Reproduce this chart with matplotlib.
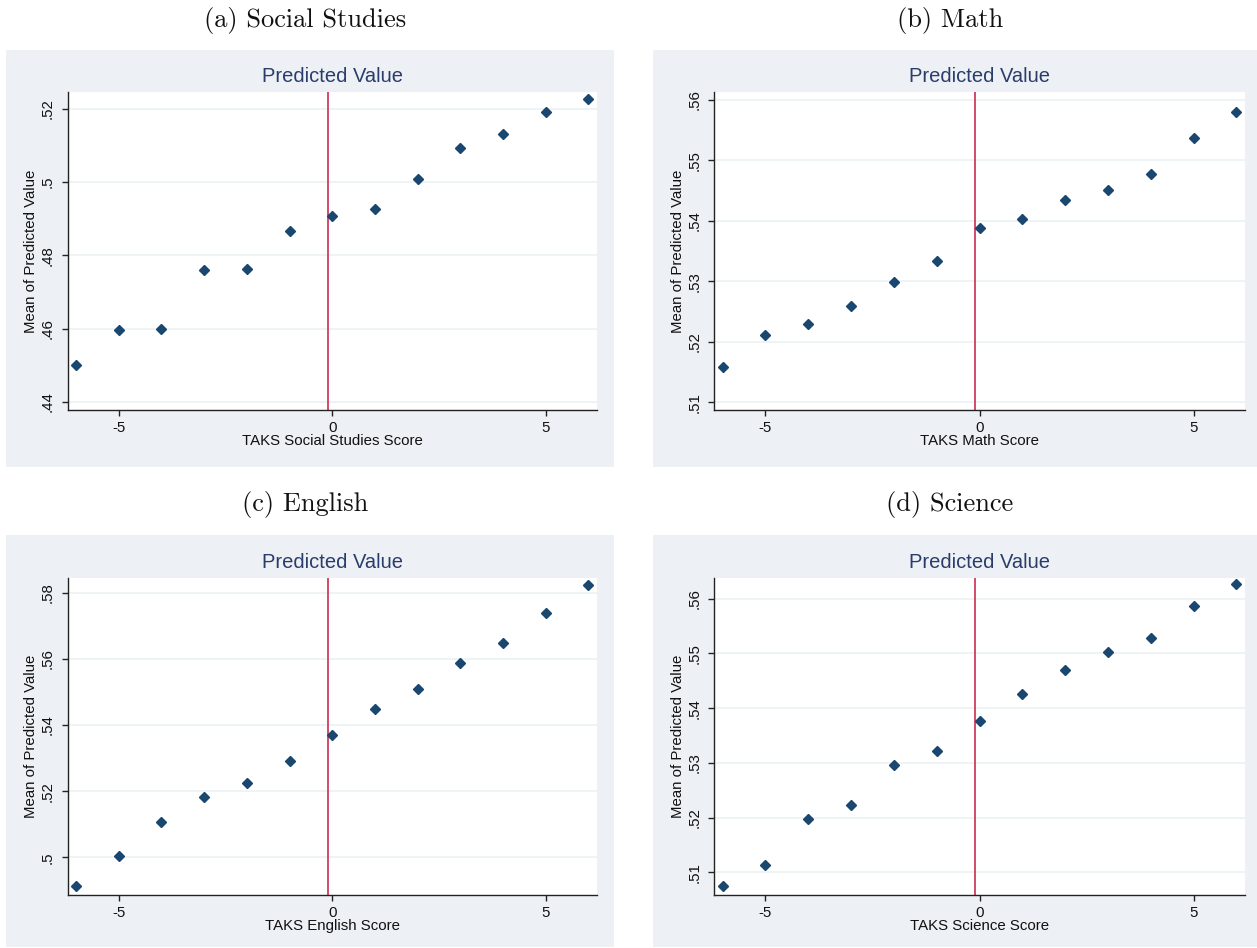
import matplotlib
matplotlib.use("Agg")
import matplotlib.pyplot as plt
from matplotlib.patches import Rectangle
from matplotlib.ticker import FixedLocator, FuncFormatter

plt.rcParams["axes.unicode_minus"] = False
plt.rcParams["font.family"] = ["Liberation Sans", "DejaVu Sans"]

# Score relative to the cutoff
scores = [-6, -5, -4, -3, -2, -1, 0, 1, 2, 3, 4, 5, 6]

# Mean predicted value at each score, by subject
social_studies = [0.4502, 0.4595, 0.4598, 0.4761, 0.4764, 0.4867, 0.4908,
                  0.4927, 0.5008, 0.5093, 0.5131, 0.5191, 0.5226]
math_vals = [0.5158, 0.5211, 0.5229, 0.5260, 0.5299, 0.5333, 0.5389,
             0.5403, 0.5435, 0.5452, 0.5478, 0.5537, 0.5580]
english = [0.4913, 0.5005, 0.5106, 0.5181, 0.5223, 0.5291, 0.5370,
           0.5448, 0.5509, 0.5587, 0.5647, 0.5738, 0.5824]
science = [0.50745, 0.51134, 0.5197, 0.5223, 0.5296, 0.5322, 0.5376,
           0.5426, 0.5469, 0.5503, 0.5529, 0.5586, 0.5626]

panel_titles = ["(a) Social Studies", "(b) Math", "(c) English", "(d) Science"]
x_labels = ["TAKS Social Studies Score", "TAKS Math Score",
            "TAKS English Score", "TAKS Science Score"]
y_ticks = [[0.44, 0.46, 0.48, 0.50, 0.52],
           [0.51, 0.52, 0.53, 0.54, 0.55, 0.56],
           [0.50, 0.52, 0.54, 0.56, 0.58],
           [0.51, 0.52, 0.53, 0.54, 0.55, 0.56]]
y_limits = [(0.4378, 0.5246), (0.50873, 0.56133),
            (0.4886, 0.5844), (0.50587, 0.56377)]
x_ticks = [-5, 0, 5]
cutoff = -0.1
series = [social_studies, math_vals, english, science]

W, H = 1257, 948
fig = plt.figure(figsize=(W / 100, H / 100), dpi=100)
fig.patch.set_facecolor("white")

BG = "#edf1f6"
NAVY = "#1a476f"
RED = "#cf3d5f"
GRID = "#edf2f5"

# (graph box, plot area) in pixels: left, top, right, bottom
layout = [
    ((6, 50, 614, 467), (67.5, 92, 597, 410)),
    ((653, 50, 1257, 467), (714, 92, 1245, 410)),
    ((6, 535, 614, 947), (67.5, 578, 597, 895)),
    ((653, 535, 1257, 947), (714, 578, 1245, 895)),
]


def fx(px):
    return px / W


def fy(py):
    return 1 - py / H


def stata_fmt(v, _pos=None):
    s = f"{v:.2f}".rstrip("0").rstrip(".")
    if s.startswith("0."):
        s = s[1:]
    return s


for i, ((gl, gt, gr, gb), (pl, pt, pr, pb)) in enumerate(layout):
    fig.patches.append(Rectangle((fx(gl), fy(gb)), fx(gr - gl), (gb - gt) / H,
                                 transform=fig.transFigure, facecolor=BG,
                                 edgecolor="none", zorder=-5))
    # panel caption above each graph
    fig.text(fx((gl + gr) / 2 - 5), fy(gt - 30), panel_titles[i],
             family="cmr10", fontsize=19, ha="center", va="center",
             color="#111111")

    ax = fig.add_axes([fx(pl), fy(pb), fx(pr - pl), (pb - pt) / H])
    ax.set_zorder(2)
    ax.set_facecolor("white")
    ax.plot(scores, series[i], linestyle="none", marker="D", markersize=4.8,
            color=NAVY, zorder=3)
    ax.axvline(cutoff, color=RED, linewidth=1.3, zorder=2)

    ax.set_xlim(-6.2, 6.2)
    ax.set_ylim(*y_limits[i])
    ax.yaxis.set_major_locator(FixedLocator(y_ticks[i]))
    ax.yaxis.set_major_formatter(FuncFormatter(stata_fmt))
    ax.xaxis.set_major_locator(FixedLocator(x_ticks))
    ax.xaxis.set_major_formatter(FuncFormatter(lambda v, p: f"{int(v)}"))
    ax.grid(axis="y", color=GRID, linewidth=1.3, zorder=0)
    ax.set_axisbelow(True)

    for side in ("top", "right"):
        ax.spines[side].set_visible(False)
    for side in ("left", "bottom"):
        ax.spines[side].set_color("#222222")
        ax.spines[side].set_linewidth(1.0)

    ax.tick_params(axis="both", direction="out", length=4, width=1,
                   color="#222222", labelsize=10.8, labelcolor="#111111")
    ax.tick_params(axis="x", pad=4)
    ax.tick_params(axis="y", pad=5)
    for lab in ax.get_yticklabels():
        lab.set_rotation(90)
        lab.set_va("center")
    ax.set_xlabel(x_labels[i], fontsize=10.8, color="#111111", labelpad=-1)
    ax.set_ylabel("Mean of Predicted Value", fontsize=10.8, color="#111111",
                  labelpad=2)
    ax.set_title("Predicted Value", fontsize=14.5, color="#2a3d6a", pad=7)

fig.savefig("out.png", dpi=100, facecolor="white")
